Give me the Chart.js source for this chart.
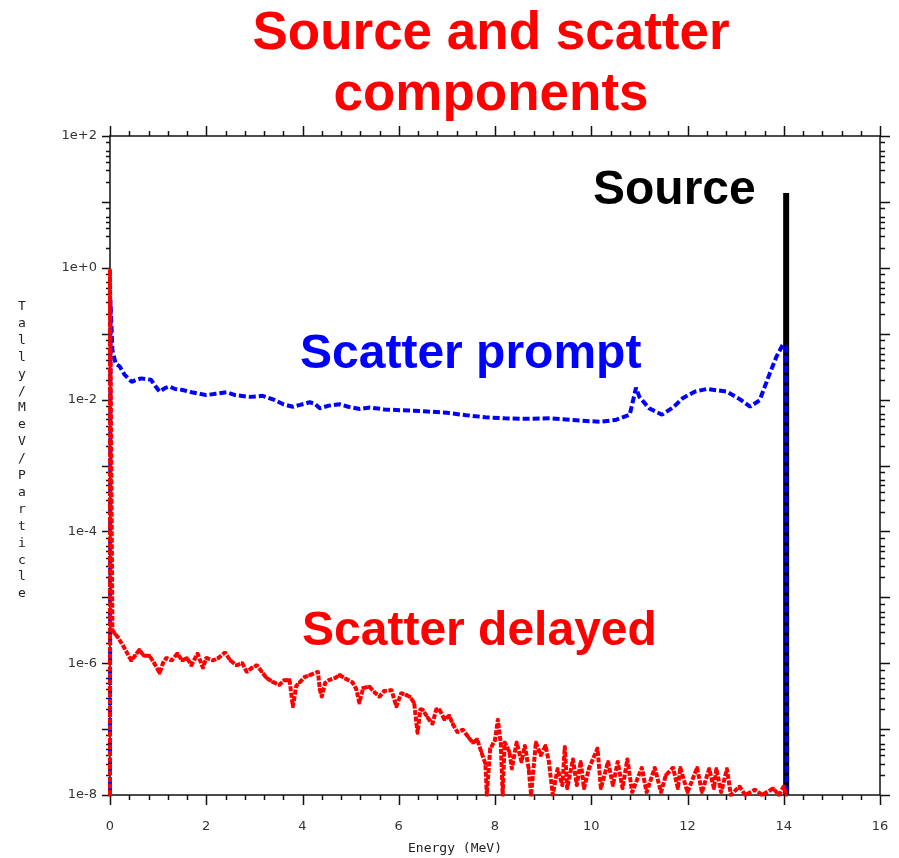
<!DOCTYPE html>
<html>
<head>
<meta charset="utf-8">
<script src="https://cdn.jsdelivr.net/npm/chart.js@4/dist/chart.umd.min.js"></script>
<style>
  html, body { margin: 0; padding: 0; background: #fff; }
  #wrap { width: 899px; height: 858px; }
</style>
</head>
<body>
<div id="wrap"><canvas id="myChart" width="899" height="858"></canvas></div>
<script>
// energy (MeV) / tally values
const sourceEnergy = [14.05, 14.05]
const sourceTally = [1e-8, 13.6]

const promptEnergy = [0, 0.01, 0.05, 0.12, 0.2, 0.3, 0.45, 0.55, 0.65, 0.85, 0.95, 1.03, 1.15, 1.24, 1.35, 1.51, 1.7, 2.0, 2.2, 2.42, 2.6, 2.9, 3.17, 3.4, 3.6, 3.8, 3.95, 4.15, 4.25, 4.36, 4.55, 4.77, 4.95, 5.19, 5.4, 5.7, 6.02, 6.3, 6.6, 7.0, 7.4, 7.8, 8.2, 8.6, 9.14, 9.6, 10.18, 10.5, 10.8, 10.93, 11.0, 11.2, 11.47, 11.7, 11.9, 12.15, 12.4, 12.82, 13.1, 13.3, 13.5, 13.71, 13.85, 13.98, 14.05, 14.06]
const promptTally = [1e-8, 0.32, 0.056, 0.035, 0.032, 0.024, 0.0186, 0.020, 0.021, 0.020, 0.0158, 0.0132, 0.0151, 0.0158, 0.0145, 0.014, 0.0129, 0.0117, 0.0123, 0.0129, 0.0117, 0.011, 0.0114, 0.01, 0.0085, 0.0078, 0.0083, 0.0091, 0.0087, 0.0074, 0.0081, 0.0085, 0.0078, 0.0072, 0.0076, 0.0071, 0.0069, 0.0068, 0.0066, 0.0063, 0.0058, 0.0054, 0.0052, 0.0051, 0.0052, 0.0049, 0.0046, 0.0049, 0.0059, 0.0151, 0.011, 0.0074, 0.0059, 0.0076, 0.0105, 0.0132, 0.0145, 0.0132, 0.01, 0.0078, 0.0098, 0.025, 0.045, 0.068, 0.063, 1e-8]

const delayedEnergy = [0, 0, 0.05, 0.1, 0.16, 0.3, 0.44, 0.52, 0.61, 0.7, 0.82, 0.92, 1.03, 1.1, 1.17, 1.28, 1.4, 1.5, 1.6, 1.69, 1.82, 1.93, 2.0, 2.14, 2.25, 2.39, 2.5, 2.63, 2.75, 2.84, 2.95, 3.05, 3.15, 3.25, 3.38, 3.52, 3.62, 3.73, 3.8, 3.87, 3.94, 4.05, 4.15, 4.32, 4.36, 4.4, 4.47, 4.56, 4.68, 4.77, 4.9, 5.04, 5.12, 5.18, 5.26, 5.39, 5.5, 5.6, 5.7, 5.85, 5.95, 6.05, 6.15, 6.23, 6.32, 6.39, 6.45, 6.5, 6.6, 6.7, 6.78, 6.85, 6.95, 7.05, 7.12, 7.22, 7.33, 7.45, 7.54, 7.63, 7.72, 7.8, 7.83, 7.9, 8.0, 8.06, 8.12, 8.16, 8.2, 8.3, 8.35, 8.45, 8.55, 8.62, 8.7, 8.75, 8.85, 8.95, 9.05, 9.12, 9.2, 9.3, 9.4, 9.45, 9.5, 9.62, 9.7, 9.78, 9.85, 9.95, 10.13, 10.2, 10.35, 10.45, 10.55, 10.65, 10.75, 10.85, 11.05, 11.15, 11.32, 11.45, 11.55, 11.7, 11.8, 11.85, 12.0, 12.2, 12.3, 12.45, 12.55, 12.6, 12.7, 12.82, 12.9, 13.08, 13.2, 13.4, 13.55, 13.78, 13.9, 14.0, 14.05]
const delayedTally = [1e-8, 0.93, 3.2e-6, 2.8e-6, 2.5e-6, 1.7e-6, 1.1e-6, 1.3e-6, 1.6e-6, 1.3e-6, 1.3e-6, 1.0e-6, 7.1e-7, 1.0e-6, 1.2e-6, 1.1e-6, 1.4e-6, 1.1e-6, 1.2e-6, 9.3e-7, 1.4e-6, 8.5e-7, 1.2e-6, 1.1e-6, 1.2e-6, 1.45e-6, 1.1e-6, 9.3e-7, 1.0e-6, 7.4e-7, 8.5e-7, 9.3e-7, 7.5e-7, 6.0e-7, 5.2e-7, 4.7e-7, 5.5e-7, 5.6e-7, 2.2e-7, 4.5e-7, 5.1e-7, 6.2e-7, 6.6e-7, 7.4e-7, 4.0e-7, 3.1e-7, 5.0e-7, 5.6e-7, 6.0e-7, 6.6e-7, 5.8e-7, 5.1e-7, 4.0e-7, 2.5e-7, 4.2e-7, 4.4e-7, 3.6e-7, 3.1e-7, 3.8e-7, 3.9e-7, 2.2e-7, 3.5e-7, 3.3e-7, 3.1e-7, 2.5e-7, 8.7e-8, 2.0e-7, 1.95e-7, 1.5e-7, 1.2e-7, 2.0e-7, 1.95e-7, 1.4e-7, 1.6e-7, 1.2e-7, 9.0e-8, 9.8e-8, 7.5e-8, 6.2e-8, 7.0e-8, 4.4e-8, 3.0e-8, 1e-8, 5.0e-8, 6.8e-8, 1.4e-7, 6.0e-8, 1e-8, 6.3e-8, 4.5e-8, 2.5e-8, 6.3e-8, 3.2e-8, 5.6e-8, 2.5e-8, 1e-8, 6.3e-8, 4.0e-8, 5.6e-8, 3.2e-8, 1e-8, 2.5e-8, 1.4e-8, 5.4e-8, 1.26e-8, 3.5e-8, 1.4e-8, 3.2e-8, 1.26e-8, 2.5e-8, 5.1e-8, 1.26e-8, 3.2e-8, 1.4e-8, 3.2e-8, 1.26e-8, 3.5e-8, 1.1e-8, 2.6e-8, 1.1e-8, 2.6e-8, 1.1e-8, 2.0e-8, 2.6e-8, 1.26e-8, 2.6e-8, 1.1e-8, 2.6e-8, 1.1e-8, 2.5e-8, 1.26e-8, 2.5e-8, 1.1e-8, 2.5e-8, 1e-8, 1.35e-8, 1e-8, 1.2e-8, 1e-8, 1.26e-8, 1e-8, 1.35e-8, 1e-8]

const xTickLabels = [0, 2, 4, 6, 8, 10, 12, 14, 16]
const yTickLabels = [1e2, 1e0, 1e-2, 1e-4, 1e-6, 1e-8]
const yLabel = 'Tally/MeV/Particle'

function toPoints(xs, ys) {
  return xs.map((x, i) => ({ x: x, y: ys[i] }))
}

// frame and tick marks go under the curves, free text on top
const decorations = {
  id: 'decorations',
  beforeDatasetsDraw(chart) {
    const c = chart.ctx
    const a = chart.chartArea
    const xs = chart.scales.x
    const ys = chart.scales.y
    c.save()
    c.strokeStyle = '#111'
    c.lineWidth = 1.5
    c.strokeRect(a.left, a.top, a.right - a.left, a.bottom - a.top)

    c.beginPath()
    for (let k = 0; k <= 40; k++) {
      const v = k * 0.4
      const px = Math.round(xs.getPixelForValue(v)) + 0.5
      const len = (k % 5 === 0) ? 10 : 5
      c.moveTo(px, a.bottom); c.lineTo(px, a.bottom + len)
      c.moveTo(px, a.top); c.lineTo(px, a.top - len)
    }
    for (let e = -8; e <= 2; e++) {
      const py = Math.round(ys.getPixelForValue(Math.pow(10, e))) + 0.5
      c.moveTo(a.left, py); c.lineTo(a.left - 8, py)
      c.moveTo(a.right, py); c.lineTo(a.right + 10, py)
      if (e < 2) {
        [2, 3, 4, 5, 6, 8].forEach(m => {
          const q = Math.round(ys.getPixelForValue(m * Math.pow(10, e))) + 0.5
          c.moveTo(a.left, q); c.lineTo(a.left - 4, q)
          c.moveTo(a.right, q); c.lineTo(a.right + 5, q)
        })
      }
    }
    c.stroke()
    c.restore()
  },
  afterDraw(chart) {
    const c = chart.ctx
    c.save()
    c.textAlign = 'center'
    c.textBaseline = 'alphabetic'
    c.fillStyle = '#ff0000'
    c.font = 'bold 53px "Liberation Sans", Arial, sans-serif'
    c.fillText('Source and scatter', 491, 49)
    c.fillText('components', 491, 110)

    c.textAlign = 'left'
    c.font = 'bold 48px "Liberation Sans", Arial, sans-serif'
    c.fillStyle = '#000000'
    c.fillText('Source', 593, 204)
    c.fillStyle = '#0000ff'
    c.fillText('Scatter prompt', 300, 368)
    c.fillStyle = '#ff0000'
    c.fillText('Scatter delayed', 302, 645)

    c.fillStyle = '#222'
    c.textAlign = 'center'
    c.font = '13px "DejaVu Sans Mono", monospace'
    c.fillText('Energy (MeV)', 455, 852)
    for (let i = 0; i < yLabel.length; i++) {
      c.fillText(yLabel[i], 22, 310 + i * 16.9)
    }
    c.restore()
  }
}

const ctx = document.getElementById('myChart')
// eslint-disable-next-line no-unused-vars
const myChart = new Chart(ctx, {
  type: 'line',
  data: {
    datasets: [{
      label: 'Scatter delayed',
      data: toPoints(delayedEnergy, delayedTally),
      borderColor: '#ff0000',
      backgroundColor: '#ff0000',
      borderWidth: 4,
      borderDash: [5, 1.5],
      borderJoinStyle: 'bevel',
      pointStyle: 'rect',
      pointRadius: 2.2,
      pointBorderWidth: 0,
      clip: 8,
      tension: 0
    }, {
      label: 'Scatter prompt',
      data: toPoints(promptEnergy, promptTally),
      borderColor: '#0000ff',
      borderWidth: 4,
      borderDash: [7, 3],
      borderJoinStyle: 'bevel',
      pointRadius: 0,
      clip: 8,
      tension: 0
    }, {
      label: 'Source',
      data: toPoints(sourceEnergy, sourceTally),
      borderColor: '#000000',
      borderWidth: 6,
      pointRadius: 0
    }]
  },
  options: {
    responsive: false,
    animation: false,
    devicePixelRatio: 1,
    layout: { padding: { left: 0, right: 19, top: 136, bottom: 0 } },
    scales: {
      x: {
        type: 'linear',
        min: 0,
        max: 16,
        afterFit: (s) => { s.height = 63; s.paddingLeft = 0; s.paddingRight = 0 },
        afterBuildTicks: (s) => { s.ticks = xTickLabels.map(v => ({ value: v })) },
        grid: { display: false, drawTicks: false },
        border: { display: false },
        ticks: {
          padding: 24,
          color: '#333',
          maxRotation: 0,
          font: { family: '"DejaVu Sans", sans-serif', size: 13 }
        }
      },
      y: {
        type: 'logarithmic',
        min: 1e-8,
        max: 1e2,
        afterFit: (s) => { s.width = 110; s.paddingTop = 0; s.paddingBottom = 0 },
        afterBuildTicks: (s) => { s.ticks = yTickLabels.map(v => ({ value: v })) },
        grid: { display: false, drawTicks: false },
        border: { display: false },
        ticks: {
          padding: 13,
          color: '#333',
          font: { family: '"DejaVu Sans", sans-serif', size: 13 },
          callback: (v) => {
            const e = Math.round(Math.log10(v))
            return '1e' + (e >= 0 ? '+' : '-') + Math.abs(e)
          }
        }
      }
    },
    plugins: {
      legend: { display: false },
      tooltip: { enabled: false }
    }
  },
  plugins: [decorations]
})
</script>
</body>
</html>
